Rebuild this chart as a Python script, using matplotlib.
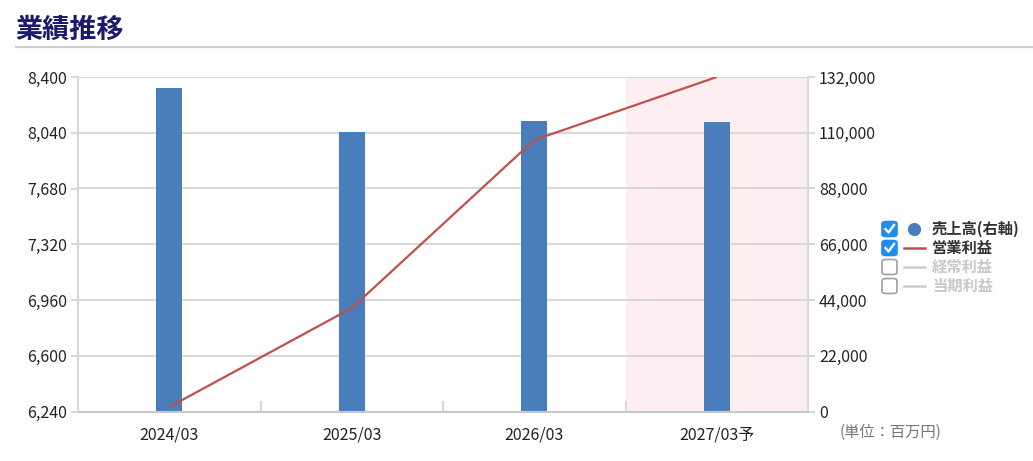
import numpy as np
import matplotlib
matplotlib.use("Agg")
import matplotlib.pyplot as plt
from matplotlib.patches import FancyBboxPatch
from matplotlib.lines import Line2D

plt.rcParams['font.family'] = ['Noto Sans CJK JP', 'DejaVu Sans']

# data
periods = ["2024/03", "2025/03", "2026/03", "2027/03予"]
sales = [127500, 110400, 114600, 114400]          # 売上高 (right axis)
op_profit = [6269, 6908, 7993, 8400]              # 営業利益 (left axis)
left_ticks = [6240, 6600, 6960, 7320, 7680, 8040, 8400]
right_ticks = [0, 22000, 44000, 66000, 88000, 110000, 132000]
legend_labels = ["売上高(右軸)", "営業利益", "経常利益", "当期利益"]
legend_on = [True, True, False, False]

W, H = 1033, 461
fig = plt.figure(figsize=(W / 100, H / 100), dpi=100)


def fx(x):
    return x / W


def fy(y):
    return 1 - y / H


grid_c = "#d9d9d9"
bar_c = "#4a7ebb"
line_c = "#c0504d"

ax = fig.add_axes([fx(78), fy(411.5), fx(808) - fx(78), fy(77) - fy(411.5)])
x = np.arange(len(periods))

# forecast shading
ax.axvspan(2.5, 3.5, color="#fdeef1", zorder=0, lw=0)

# bars on right scale (ax), line on left scale (ax2)
ax.bar(x, sales, width=0.14, color=bar_c, zorder=2)
ax.set_ylim(0, 132000)
ax.set_xlim(-0.5, 3.5)
ax.set_yticks(right_ticks)
ax.set_yticklabels([f"{v:,}" for v in right_ticks])
ax.grid(axis="y", color=grid_c, lw=1.5, zorder=1)
ax.set_axisbelow(True)

ax2 = ax.twinx()
ax2.plot(x, op_profit, color=line_c, lw=1.6, zorder=3, solid_capstyle="butt")
ax2.set_ylim(6240, 8400)
ax2.set_yticks(left_ticks)
ax2.set_yticklabels([f"{v:,}" for v in left_ticks])

ax.yaxis.tick_right()
ax2.yaxis.tick_left()

for a in (ax, ax2):
    for s in a.spines.values():
        s.set_visible(False)
    a.tick_params(axis="y", length=5, width=1.5, color=grid_c, labelsize=11.5,
                  labelcolor="#222222", pad=3)

for side in ("left", "right"):
    ax.spines[side].set_visible(True)
    ax.spines[side].set_color(grid_c)
    ax.spines[side].set_linewidth(1.5)
ax.spines["bottom"].set_visible(True)
ax.spines["bottom"].set_color("#c8c8c8")
ax.spines["bottom"].set_linewidth(1.5)

# category labels and boundary ticks
ax.set_xticks(x)
ax.set_xticklabels(periods)
ax.tick_params(axis="x", length=0, labelsize=11.5, labelcolor="#222222", pad=11)
ax.set_xticks([0.5, 1.5, 2.5], minor=True)
ax.tick_params(axis="x", which="minor", direction="in", length=8, width=1.5,
               color=grid_c)

# title and underline
fig.text(fx(15), fy(30), "業績推移", fontsize=19.5, weight="bold", color="#1c1a6b",
         va="center", ha="left")
fig.add_artist(Line2D([fx(16), fx(W)], [fy(47.5), fy(47.5)], color="#cfcfcf", lw=1.6))

# unit note
fig.text(fx(840), fy(432), "(単位：百万円)", fontsize=11, color="#777777",
         va="center", ha="left")

# legend
rows = [229, 248, 267, 286]
for i, (lab, on) in enumerate(zip(legend_labels, legend_on)):
    yc = rows[i]
    box = FancyBboxPatch((fx(882), fy(yc + 7.5)), fx(15), (fy(yc - 7.5) - fy(yc + 7.5)),
                         boxstyle="round,pad=0,rounding_size=0.0045",
                         transform=fig.transFigure,
                         facecolor="#1f8cf0" if on else "white",
                         edgecolor="#1f8cf0" if on else "#a0a0a0", lw=1.2)
    fig.add_artist(box)
    if on:
        fig.add_artist(Line2D([fx(885.5), fx(888.5), fx(894)],
                              [fy(yc), fy(yc + 3.5), fy(yc - 4)],
                              color="white", lw=1.7))
    if i == 0:
        fig.add_artist(Line2D([fx(914)], [fy(yc)], marker="o", markersize=9.5,
                              color=bar_c, markeredgewidth=0))
    else:
        fig.add_artist(Line2D([fx(904), fx(925)], [fy(yc), fy(yc)],
                              color=line_c if on else "#cccccc", lw=1.8))
    fig.text(fx(932), fy(yc), lab, fontsize=11, weight="bold",
             color="#333333" if on else "#c8c8c8", va="center", ha="left")

fig.savefig("out.png", dpi=100)
